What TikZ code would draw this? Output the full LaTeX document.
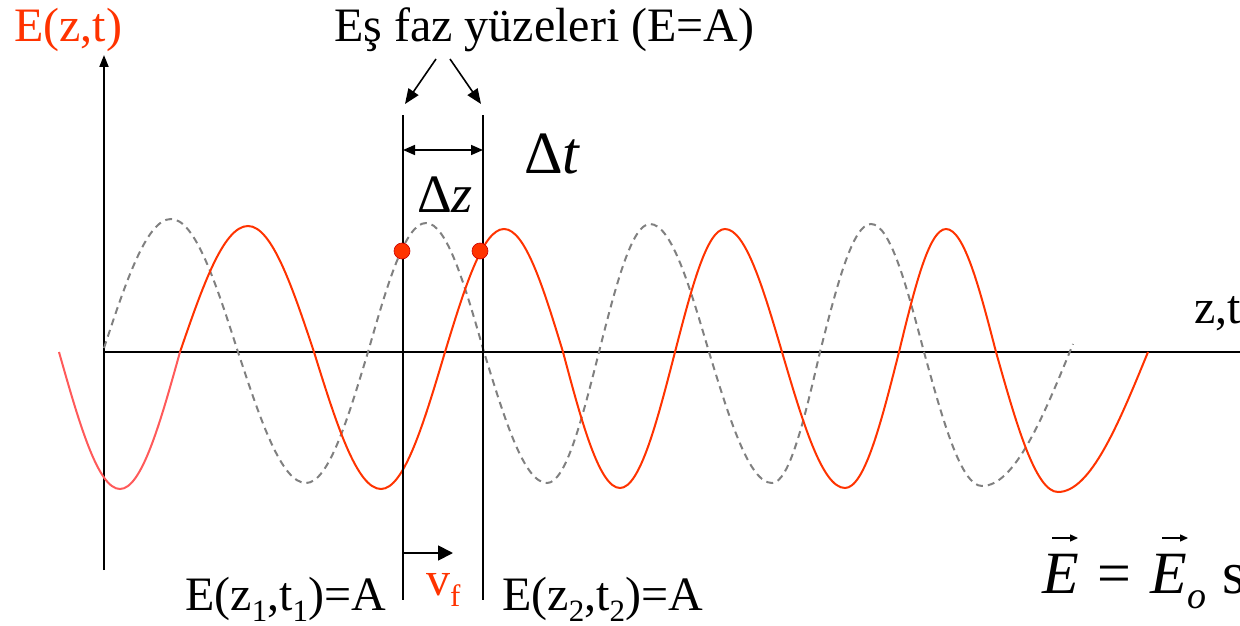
\documentclass[tikz,border=0pt]{standalone}
\usepackage{fontspec}
\setmainfont{Liberation Serif}
\usetikzlibrary{arrows.meta}
\definecolor{wred}{HTML}{FF3300}
\definecolor{wpink}{HTML}{FF5A5A}
\definecolor{wgray}{HTML}{808080}
\newcommand\lowsub[1]{\raisebox{-11pt}{\fontsize{31}{31}\selectfont #1}}
\begin{document}
\begin{tikzpicture}[x=1pt,y=-1pt,
  axisline/.style={line width=2pt,black},
  guide/.style={line width=1.8pt,black},
  wave/.style={line width=2pt,wred},
  dashwave/.style={line width=2pt,wgray,dash pattern=on 7pt off 5pt},
  lbl/.style={font=\fontsize{48}{56}\selectfont,inner sep=0pt,anchor=base west},
  eqlbl/.style={font=\fontsize{60}{70}\selectfont,inner sep=0pt,anchor=base west},
  bigtip/.style={-{Triangle[length=15pt,width=12pt]},line width=1.6pt},
  dot/.style={circle,fill=wred,draw=red!80!black,line width=0.6pt,minimum size=16pt,inner sep=0pt}]
\useasboundingbox (0,0) rectangle (1240,626);
% axes
\coordinate (O) at (104,352);
\coordinate (ytop) at (104,55);
\coordinate (ybot) at (104,570);
\coordinate (xend) at (1242,352);
\draw[axisline,-{Triangle[length=12pt,width=9pt]}] (ybot) -- (ytop);
\draw[axisline] (O) -- (xend);
% waves
\draw[dashwave] (104,348) sin (171,219) cos (238,352) sin (306,483) cos (368,352) sin (426,223) cos (484,352) sin (547,483) cos (599,352) sin (650,224) cos (709,352) sin (772,483) cos (820,352) sin (871,224) cos (924,352) sin (982,486) cos (1073,344);
\draw[wave,wpink] (59,352) sin (120,489) cos (180,352);
\draw[wave] (180,352) sin (248,226) cos (314,352) sin (381,489) cos (445,352) sin (504,229) cos (563,352) sin (620,488) cos (675,352) sin (725,229) cos (782,352) sin (845,488) cos (899,352) sin (946,229) cos (996,352) sin (1058,492) cos (1148,352);
% phase surfaces
\coordinate (l1t) at (403,115);
\coordinate (l1b) at (403,600);
\coordinate (l2t) at (483,115);
\coordinate (l2b) at (483,600);
\draw[guide] (l1t) -- (l1b);
\draw[guide] (l2t) -- (l2b);
\coordinate (dzl) at (403,150);
\coordinate (dzr) at (483,150);
\draw[{Triangle[length=12pt,width=10pt]}-{Triangle[length=12pt,width=10pt]},line width=1.6pt] (dzl) -- (dzr);
\coordinate (a1s) at (436,59);
\coordinate (a1e) at (405,104);
\coordinate (a2s) at (450,59);
\coordinate (a2e) at (481,104);
\draw[bigtip] (a1s) -- (a1e);
\draw[bigtip] (a2s) -- (a2e);
\coordinate (vs) at (403,553);
\coordinate (ve) at (453,553);
\draw[-{Triangle[length=15pt,width=15pt]},line width=1.8pt] (vs) -- (ve);
% dots
\node[dot] (d1) at (402,251) {};
\node[dot] (d2) at (480,251) {};
% labels
\node[lbl,text=wred] (ylab) at (14,42) {E(z,t)};
\node[lbl] (title) at (334,42) {Eş faz yüzeleri (E=A)};
\node[lbl] (xlab) at (1194,323) {z,t};
\node[inner sep=0pt,anchor=base west,font=\fontsize{60}{70}\selectfont] (dt) at (524,173) {Δ\textit{t}};
\node[inner sep=0pt,anchor=base west,font=\fontsize{54}{62}\selectfont] (dz) at (417,212) {Δ\textit{z}};
\node[lbl] (e1) at (185,610) {E(z\lowsub{1},t\lowsub{1})=A};
\node[lbl] (e2) at (502,610) {E(z\lowsub{2},t\lowsub{2})=A};
\node[lbl,text=wred] (vf) at (426,595) {v\lowsub{f}};
% equation
\node[eqlbl] (E1) at (1042,593) {\textit{E}};
\node[eqlbl] (eq) at (1097,593) {=};
\node[eqlbl] (E2) at (1150,593) {\textit{E}};
\node[inner sep=0pt,anchor=base west,font=\fontsize{38}{44}\selectfont] (Eo) at (1187,608) {\textit{o}};
\node[eqlbl] (sn) at (1222,593) {s};
\coordinate (v1s) at (1052,538);
\coordinate (v1e) at (1078,538);
\coordinate (v2s) at (1162,538);
\coordinate (v2e) at (1188,538);
\draw[-{Triangle[length=8pt,width=7pt]},line width=1.4pt] (v1s) -- (v1e);
\draw[-{Triangle[length=8pt,width=7pt]},line width=1.4pt] (v2s) -- (v2e);
\end{tikzpicture}
\end{document}
